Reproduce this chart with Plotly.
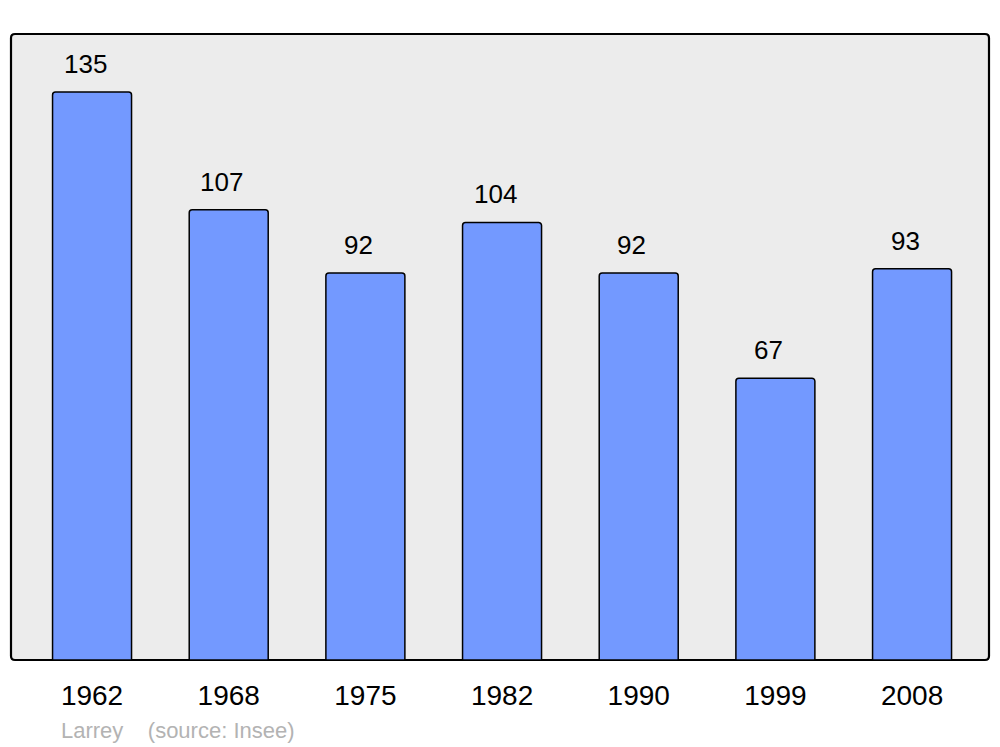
import plotly.graph_objects as go

years = ["1962", "1968", "1975", "1982", "1990", "1999", "2008"]
population = [135, 107, 92, 104, 92, 67, 93]
footer_text = "Larrey\u00a0\u00a0\u00a0\u00a0(source: Insee)"

# page has an 8px body margin; size the figure so it fits the 1000x747 window
OFF = 8
W, H = 1000 - OFF, 747 - OFF
ml, mr, mt, mb = 11 - OFF, 11, 34 - OFF, 87
pw, ph = W - ml - mr, H - mt - mb

fig = go.Figure()
fig.add_trace(go.Bar(
    x=list(range(len(years))), y=population,
    width=0.578,
    marker=dict(color="#7399ff", line=dict(color="#000000", width=1.5), cornerradius=3),
    hoverinfo="y",
))

for i, v in enumerate(population):
    fig.add_annotation(x=i, y=v, text=str(v), showarrow=False,
                       xanchor="center", yanchor="middle", yshift=28, xshift=-7,
                       font=dict(family="Liberation Sans, Arial", size=26, color="#000000"))

fig.add_annotation(xref="paper", yref="paper", x=(59 - 11) / pw, y=-(730 - 660) / ph,
                   text=footer_text, showarrow=False, xanchor="left", yanchor="middle",
                   font=dict(family="Liberation Sans, Arial", size=22, color="#b3b3b3"))

rx, ry = 4 / pw, 4 / ph
path = (f"M {rx},0 L {1-rx},0 Q 1,0 1,{ry} L 1,{1-ry} Q 1,1 {1-rx},1 "
        f"L {rx},1 Q 0,1 0,{1-ry} L 0,{ry} Q 0,0 {rx},0 Z")
fig.add_shape(type="path", xref="paper", yref="paper", path=path,
              fillcolor="#ececec", line=dict(color="#000000", width=2.2), layer="below")

fig.update_layout(
    width=W, height=H,
    margin=dict(l=ml, r=mr, t=mt, b=mb, pad=0),
    paper_bgcolor="#ffffff", plot_bgcolor="rgba(0,0,0,0)",
    showlegend=False,
    font=dict(family="Liberation Sans, Arial", color="#000000"),
)
fig.update_xaxes(range=[-0.593, 6.563], showgrid=False, zeroline=False,
                 showline=False, ticks="", tickmode="array",
                 tickvals=list(range(len(years))), ticktext=years,
                 tickfont=dict(size=28, color="#000000"),
                 ticklabelstandoff=16)
fig.update_yaxes(range=[0, 148.8], showgrid=False, zeroline=False, showline=False,
                 showticklabels=False, ticks="")

fig.write_html("out.html")
